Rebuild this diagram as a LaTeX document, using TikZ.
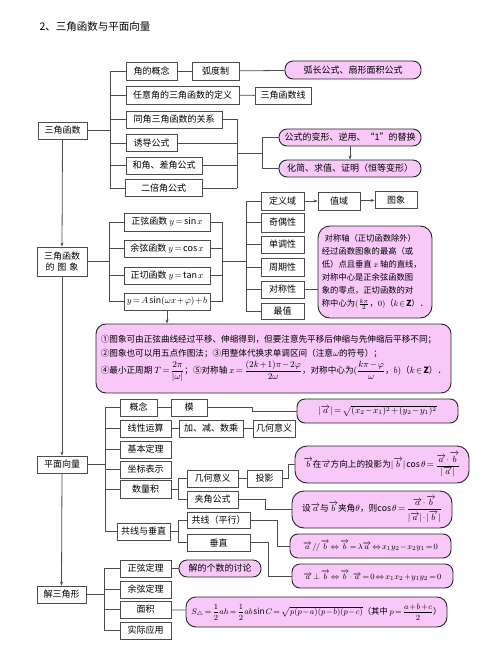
\documentclass[tikz,border=0pt]{standalone}
\usepackage{amsmath}
\usepackage{amssymb}
\usepackage{fontspec}
\setmainfont{Noto Sans CJK SC}
\usetikzlibrary{arrows.meta}

\definecolor{notepink}{RGB}{248,200,248}
\newcommand{\veca}{\overrightarrow{a}}
\newcommand{\vecb}{\overrightarrow{b}}

\tikzset{
  box/.style={draw=black!70, line width=0.8pt, fill=white, inner sep=0pt,
              font=\fontsize{9}{11}\selectfont},
  note/.style={draw=black!85, line width=0.9pt, fill=notepink, rounded corners=8pt,
               inner sep=0pt, font=\fontsize{9}{11}\selectfont},
  formula/.style={font=\fontsize{8.3}{10}\selectfont},
  wh/.style 2 args={minimum width=#1, minimum height=#2},
  link/.style={draw=black!70, line width=0.8pt},
  >={Stealth[length=4pt,width=3pt]},
}

\begin{document}
\thinmuskip=2mu \medmuskip=1.5mu \thickmuskip=2.5mu
\begin{tikzpicture}[x=1pt, y=-1pt]
\useasboundingbox (0,0) rectangle (500,671);

\node[anchor=west, font=\fontsize{10.5}{12}\selectfont] (title) at (36,27) {2、三角函数与平面向量};

% 三角函数
\node[box, wh={49}{17}] (tA) at (62.5,130.5) {三角函数};
\node[box, wh={51}{18}] (A1) at (151.5,71) {角的概念};
\node[box, wh={47}{18}] (A1b) at (215.5,71) {弧度制};
\node[note, wh={136}{18}] (A1p) at (353,70) {弧长公式、扇形面积公式};
\node[box, wh={113}{18}] (A2) at (182.5,95) {任意角的三角函数的定义};
\node[box, wh={56}{17}] (A2b) at (283,95.5) {三角函数线};
\node[box, wh={96}{17}] (A3) at (174,119.5) {同角三角函数的关系};
\node[box, wh={51}{17}] (A4) at (151.5,143) {诱导公式};
\node[box, wh={76}{17}] (A5) at (164,165.5) {和角、差角公式};
\node[box, wh={77}{17}] (A6) at (163.5,188) {二倍角公式};
\node[note, wh={142}{17}] (P1) at (350,137.5) {公式的变形、逆用、“1”的替换};
\node[note, wh={142}{17}] (P2) at (350,168.5) {化简、求值、证明（恒等变形）};

\coordinate (ja) at (110,130.5);
\coordinate (jb) at (237,153);
\coordinate (jc) at (262,153);
\draw[link] (tA.east) -- (ja);
\draw[link] (A1.west -| ja) -- (A6.west -| ja);
\foreach \n in {A1,A2,A3,A4,A5,A6}
  \draw[link] (\n.west) -- (\n.west -| ja);
\foreach \n in {A3,A4,A5,A6}
  \draw[link] (\n.east) -- (\n.east -| jb);
\draw[link] (A3.east -| jb) -- (A6.east -| jb);
\draw[link] (jb) -- (jc);
\draw[link] (P1.west -| jc) -- (P2.west -| jc);
\draw[link] (P1.west -| jc) -- (P1.west);
\draw[link] (P2.west -| jc) -- (P2.west);
\draw[link] (A1) -- (A1b);
\draw[link] (A1b) -- (A1p);
\draw[link] (A2) -- (A2b);
\draw[link,->] (P1.south) -- (P2.north);

% 三角函数的图象
\node[box, wh={50}{29}, align=center] (B) at (62,261.5) {三角函数\\的\,\,图\,\,象};
\node[box, wh={86}{18}] (B1) at (167,222) {正弦函数 $y=\sin x$};
\node[box, wh={86}{17}] (B2) at (167,248.5) {余弦函数 $y=\cos x$};
\node[box, wh={86}{17}] (B3) at (167,275.5) {正切函数 $y=\tan x$};
\node[box, wh={86}{17}, font=\fontsize{8.7}{10}\selectfont] (B4) at (167,301.5) {$y=A\sin(\omega x+\varphi)+b$};
\node[box, wh={43}{18}] (C1) at (282.5,201) {定义域};
\node[box, wh={42}{18}] (C1b) at (339,201) {值域};
\node[box, wh={42}{17}] (C1c) at (396,200) {图象};
\node[box, wh={43}{19}] (C2) at (282.5,222.5) {奇偶性};
\node[box, wh={43}{17}] (C3) at (282.5,244.5) {单调性};
\node[box, wh={43}{18}] (C4) at (282.5,267) {周期性};
\node[box, wh={43}{17}] (C5) at (282.5,289.5) {对称性};
\node[box, wh={43}{16}] (C6) at (282.5,311) {最值};
\node[note, wh={114}{92}, rounded corners=12pt, align=left,
      font=\fontsize{8.3}{13}\selectfont] (C5p) at (375,272)
  {\,\,对称轴（正切函数除外）\\经过函数图象的最高（或\\低）点且垂直 $x$ 轴的直线，\\对称中心是正余弦函数图\\象的零点，正切函数的对\\称中心为$(\frac{k\pi}{2}$，$0)$（$k\in\mathbf{Z}$）．};
\node[note, wh={355}{69}, rounded corners=10pt, align=left,
      font=\fontsize{8.6}{11}\selectfont] (D) at (273.5,358.5)
  {①图象可由正弦曲线经过平移、伸缩得到，但要注意先平移后伸缩与先伸缩后平移不同；\\[3pt]
   ②图象也可以用五点作图法；③用整体代换求单调区间（注意$\omega$的符号）；\\[2pt]
   ④最小正周期 $T=\dfrac{2\pi}{|\omega|}$；⑤对称轴 $x=\dfrac{(2k+1)\pi-2\varphi}{2\omega}$，对称中心为$(\dfrac{k\pi-\varphi}{\omega}$，$b)$（$k\in\mathbf{Z}$）．};

\coordinate (jd) at (109,261.5);
\coordinate (je) at (222,261.5);
\coordinate (jf) at (246,261.5);
\draw[link] (B.east) -- (jd);
\draw[link] (B1.west -| jd) -- (B4.west -| jd);
\draw[link] (B1.east -| je) -- (B4.east -| je);
\foreach \n in {B1,B2,B3,B4} {
  \draw[link] (\n.west) -- (\n.west -| jd);
  \draw[link] (\n.east) -- (\n.east -| je);
}
\draw[link] (je) -- (jf);
\draw[link] (C1.west -| jf) -- (C6.west -| jf);
\foreach \n in {C1,C2,C3,C4,C5,C6}
  \draw[link] (\n.west) -- (\n.west -| jf);
\draw[link,->] (C1) -- (C1b);
\draw[link,->] (C1b) -- (C1c);
\draw[link] (C5) -- (C5p.west |- C5);
\draw[link,->] (B4.south) -- (D.north -| B4);

% 平面向量
\node[box, wh={50}{17}] (V) at (62,464.5) {平面向量};
\node[box, wh={37}{17}] (V1) at (138.5,407.5) {概念};
\node[box, wh={36}{17}] (V1b) at (189,407.5) {模};
\node[note, wh={161}{24}, font=\fontsize{8.7}{10}\selectfont] (V1p) at (377.5,411) {$|\veca|=\sqrt{(x_2-x_1)^2+(y_2-y_1)^2}$};
\node[box, wh={51}{17}] (V2) at (145.5,428.5) {线性运算};
\node[box, wh={64}{17}] (V2b) at (211,428.5) {加、减、数乘};
\node[box, wh={42}{17}] (V2c) at (274,428.5) {几何意义};
\node[box, wh={51}{17}] (V3) at (145.5,449.5) {基本定理};
\node[box, wh={51}{17}] (V4) at (145.5,469.5) {坐标表示};
\node[box, wh={51}{18}] (V5) at (145.5,489) {数量积};
\node[box, wh={51}{17}] (V5a) at (212.5,478.5) {几何意义};
\node[box, wh={35}{17}] (V5b) at (264.5,478.5) {投影};
\node[note, wh={174}{37}, rounded corners=12pt, font=\fontsize{8.6}{10}\selectfont] (V5p) at (382,464.5)
  {$\vecb$在$\veca$方向上的投影为$|\vecb|\cos\theta=\dfrac{\veca\cdot\vecb}{|\veca|}$};
\node[box, wh={51}{17}] (V5c) at (212.5,499.5) {夹角公式};
\node[note, wh={160}{37}, rounded corners=12pt, font=\fontsize{8.7}{10}\selectfont] (V5q) at (372,509.5)
  {设$\veca$与$\vecb$夹角$\theta$，则$\cos\theta=\dfrac{\veca\cdot\vecb}{|\veca|\cdot|\vecb|}$};
\node[box, wh={53}{17}] (V6) at (143.5,531.5) {共线与垂直};
\node[box, wh={63}{16}] (V6a) at (218.5,520.5) {共线（平行）};
\node[box, wh={63}{17}] (V6b) at (218.5,542.5) {垂直};
\node[note, formula, wh={161}{24}] (V6p) at (370.5,546)
  {$\veca\,/\!/\,\vecb\Leftrightarrow\vecb=\lambda\veca\Leftrightarrow x_1y_2-x_2y_1=0$};
\node[note, formula, wh={161}{24}] (V6q) at (372.5,576)
  {$\veca\perp\vecb\Leftrightarrow\vecb\cdot\veca=0\Leftrightarrow x_1x_2+y_1y_2=0$};

\coordinate (jg) at (105,464.5);
\coordinate (jh) at (178,489);
\coordinate (ji) at (178,531.5);
\draw[link] (V.east) -- (jg);
\draw[link] (V1.west -| jg) -- (V6.west -| jg);
\foreach \n in {V1,V2,V3,V4,V5,V6}
  \draw[link] (\n.west) -- (\n.west -| jg);
\draw[link] (V1) -- (V1b);
\draw[link] (V1b.east) -- ++(45,0) |- (V1p.west);
\draw[link] (V2) -- (V2b);
\draw[link] (V2b) -- (V2c);
\draw[link] (V5.east) -- (jh);
\draw[link] (V5a.west -| jh) -- (V5c.west -| jh);
\draw[link] (V5a.west) -- (V5a.west -| jh);
\draw[link] (V5c.west) -- (V5c.west -| jh);
\draw[link] (V5a) -- (V5b);
\draw[link] (V5b.east) -- ++(6,0) |- (V5p.west);
\draw[link] (V5c.east) -- ++(27,0) |- (V5q.west);
\draw[link] (V6.east) -- (ji);
\draw[link] (V6a.west -| ji) -- (V6b.west -| ji);
\draw[link] (V6a.west) -- (V6a.west -| ji);
\draw[link] (V6b.west) -- (V6b.west -| ji);
\draw[link] (V6a.east) -- ++(27,0) |- (V6p.west);
\draw[link] (V6b.east) -- ++(18,0) |- (V6q.west);

% 解三角形
\node[box, wh={49}{17}] (S) at (61.5,594.5) {解三角形};
\node[box, wh={51}{17}] (S1) at (145.5,568.5) {正弦定理};
\node[note, wh={82}{17}] (S1p) at (220,568.5) {解的个数的讨论};
\node[box, wh={51}{17}] (S2) at (145.5,589.5) {余弦定理};
\node[box, wh={51}{17}] (S3) at (145.5,609.5) {面积};
\node[note, formula, wh={261}{30}, rounded corners=10pt] (S3p) at (316.5,612)
  {$S_\triangle=\dfrac{1}{2}ah=\dfrac{1}{2}ab\sin C=\sqrt{p(p-a)(p-b)(p-c)}$（其中 $p=\dfrac{a+b+c}{2}$）};
\node[box, wh={51}{17}] (S4) at (145.5,630.5) {实际应用};

\coordinate (jk) at (104,594.5);
\draw[link] (S.east) -- (jk);
\draw[link] (S1.west -| jk) -- (S4.west -| jk);
\foreach \n in {S1,S2,S3,S4}
  \draw[link] (\n.west) -- (\n.west -| jk);
\draw[link] (S1) -- (S1p);
\draw[link] (S3) -- (S3p);

% 主干
\draw[link,->] (tA.south) -- (B.north);
\draw[link,->] (B.south) -- (V.north);
\draw[link,->] (V.south) -- (S.north);
\end{tikzpicture}
\end{document}
